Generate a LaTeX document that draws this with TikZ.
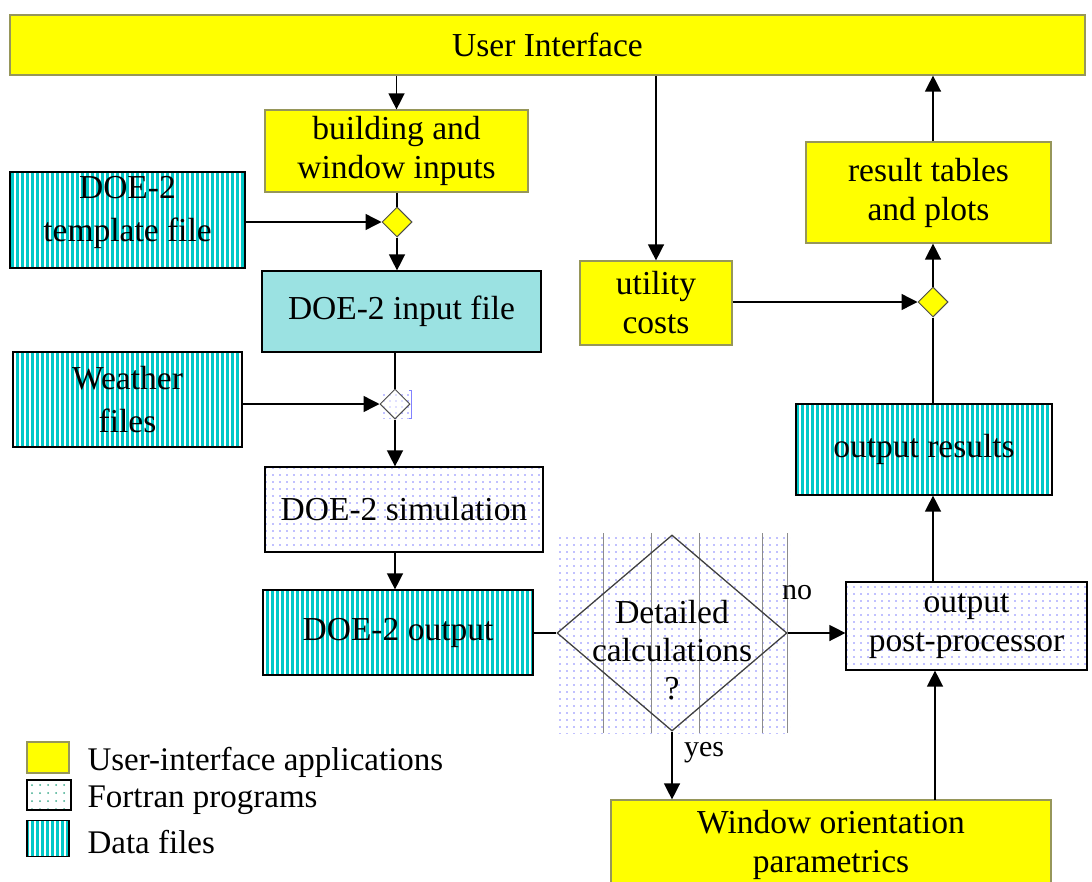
\documentclass[tikz,border=0pt]{standalone}
\usepackage{fontspec}
\setmainfont{Liberation Serif}
\usetikzlibrary{patterns.meta,arrows.meta,shapes.geometric}
\definecolor{uiyellow}{RGB}{255,255,0}
\definecolor{uiborder}{RGB}{150,150,90}
\definecolor{teal}{RGB}{0,200,200}
\definecolor{lightcyan}{RGB}{155,226,226}
\definecolor{dotblue}{RGB}{130,130,255}
\definecolor{dotgreen}{RGB}{60,170,140}
\tikzset{
  base/.style={rectangle, inner sep=0pt, align=center, font=\fontsize{33.5}{39}\selectfont},
  uibox/.style={base, fill=uiyellow, draw=uiborder, line width=1.2pt},
  databox/.style={base, draw=black, line width=1.2pt,
    preaction={fill=teal},
    pattern={Lines[angle=90,distance=5pt,line width=1.6pt]}, pattern color=white},
  fortbox/.style={base, draw=black, line width=1.2pt,
    preaction={fill=white},
    pattern={Dots[distance=7pt,radius=0.9pt]}, pattern color=dotblue},
  inpbox/.style={base, fill=lightcyan, draw=black, line width=1.2pt},
  smalldia/.style={diamond, draw=black!70, line width=1pt, minimum width=30pt, minimum height=30pt, inner sep=0pt},
  arr/.style={line width=1.4pt, -{Triangle[length=16pt,width=16pt]}},
  ln/.style={line width=1.4pt},
  lbl/.style={font=\fontsize{30}{34}\selectfont},
  legtext/.style={anchor=west, font=\fontsize{33}{38}\selectfont},
}
\begin{document}
\begin{tikzpicture}[x=1pt,y=-1pt]
\useasboundingbox (0,0) rectangle (1092,881);
% nodes
\node[uibox, minimum width=1075pt, minimum height=60pt] (ui) at (547.5,45) {User Interface};
\node[uibox, minimum width=263pt, minimum height=82pt] (bwi) at (396.5,151) {building and\\window inputs};
\node[databox, minimum width=235pt, minimum height=96pt] (tmpl) at (127.5,220) {};
\node[base, font=\fontsize{33.5}{43}\selectfont] (tmplt) at (127.5,212) {DOE-2\\template file};
\node[smalldia, fill=uiyellow] (d1) at (397,222) {};
\node[inpbox, minimum width=279pt, minimum height=81pt] (inp) at (401.5,311.5) {DOE-2 input file};
\node[databox, minimum width=229pt, minimum height=95pt, font=\fontsize{33.5}{43}\selectfont] (wthr) at (127.5,399.5) {Weather\\files};
\fill[pattern={Dots[distance=6pt,radius=0.9pt]}, pattern color=dotblue] (381,390) rectangle (411,418);
\draw[dotblue, line width=0.8pt] (409,390) -- (411,390) -- (411,418) -- (409,418);
\node[smalldia, fill=white, fill opacity=0.5, text opacity=1] (d2) at (395,404) {};
\node[fortbox, minimum width=278pt, minimum height=85pt] (sim) at (404,509.5) {DOE-2 simulation};
\node[databox, minimum width=270pt, minimum height=85pt] (out) at (398,632.5) {DOE-2 output};
% background of decision
\fill[pattern={Dots[distance=7pt,radius=0.9pt]}, pattern color=dotblue] (556,533) rectangle (790,733);
\foreach \xx in {603,651,699,762,787} \draw[black!45, line width=1pt] (\xx,533) -- (\xx,733);
\node[diamond, draw=black!75, line width=1.3pt, minimum width=230pt, minimum height=196pt, inner sep=0pt] (dc) at (672,633) {};
\node[base, font=\fontsize{33.5}{38}\selectfont] (dct) at (672,650) {Detailed\\calculations\\?};
\node[fortbox, minimum width=241pt, minimum height=88pt] (post) at (966.5,626) {output\\post-processor};
\node[uibox, minimum width=440pt, minimum height=90pt] (win) at (831,845) {Window orientation\\parametrics};
\node[databox, minimum width=256pt, minimum height=91pt] (res) at (924,449.5) {output results};
\node[smalldia, fill=uiyellow] (d3) at (933,302) {};
\node[uibox, minimum width=152pt, minimum height=84pt] (util) at (656,303) {utility\\costs};
\node[uibox, minimum width=245pt, minimum height=101pt] (tbl) at (928.5,192.5) {result tables\\and plots};
% connectors
\draw[arr] (bwi.north |- ui.south) -- (bwi.north);
\draw[ln] (bwi.south -| d1) -- (d1.north);
\draw[arr] (tmpl.east |- d1) -- (d1.west);
\draw[arr] (d1.south) -- (d1.south |- inp.north);
\draw[ln] (inp.south -| d2) -- (d2.north);
\draw[arr] (wthr.east |- d2) -- (d2.west);
\draw[arr] (d2.south) -- (d2.south |- sim.north);
\draw[arr] (sim.south -| d2) -- (out.north -| d2);
\draw[ln] (out.east |- dc) -- (dc.west);
\draw[arr] (dc.east) -- (post.west |- dc);
\node[lbl] (no) at (797,593) {no};
\draw[arr] (dc.south) -- (dc.south |- win.north);
\node[lbl] (yes) at (704,753) {yes};
\coordinate (wtop) at (935,800);
\draw[arr] (wtop) -- (wtop |- post.south);
\draw[arr] (post.north -| d3) -- (res.south -| d3);
\draw[ln] (res.north -| d3) -- (d3.south);
\draw[arr] (util.east |- d3) -- (d3.west);
\draw[arr] (util.north |- ui.south) -- (util.north);
\draw[arr] (d3.north) -- (tbl.south -| d3);
\draw[arr] (tbl.north -| d3) -- (ui.south -| d3);
% legend
\node[uibox, minimum width=42pt, minimum height=31pt] (l1) at (48,757.5) {};
\node[base, draw=black, line width=1.2pt, minimum width=44pt, minimum height=30pt,
  pattern={Dots[distance=8pt,radius=1pt]}, pattern color=dotgreen] (l2) at (49,795) {};
\node[databox, minimum width=42pt, minimum height=36pt] (l3) at (48,838.5) {};
\node[legtext] (t1) at (84,762) {User-interface applications};
\node[legtext] (t2) at (84,800) {Fortran programs};
\node[legtext] (t3) at (84,842) {Data files};
\end{tikzpicture}
\end{document}
